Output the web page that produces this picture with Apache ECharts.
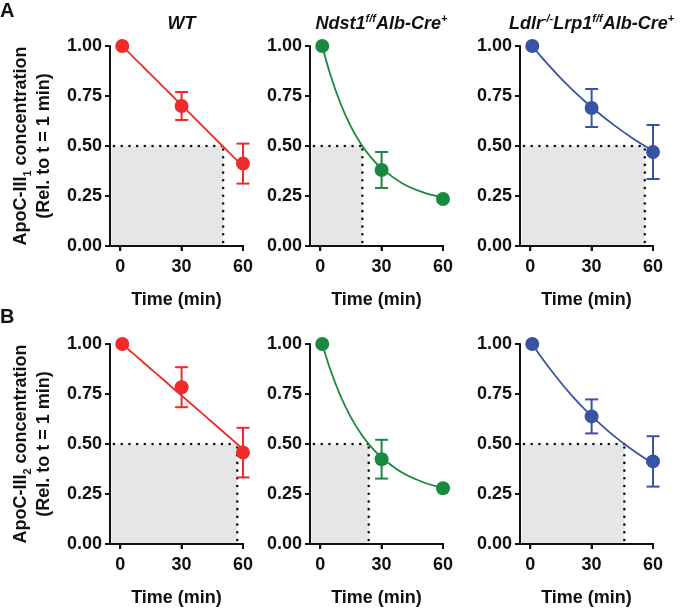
<!DOCTYPE html>
<html>
<head>
<meta charset="utf-8">
<script src="https://cdn.jsdelivr.net/npm/echarts@6/dist/echarts.min.js"></script>
<style>
  html, body { margin: 0; padding: 0; background: #ffffff; }
  #chart { width: 681px; height: 610px; background: #ffffff; }
</style>
</head>
<body>
<div id="chart"></div>
<script>
// ---------------- data ----------------
const sampleTimes = [1, 30, 60];
const xTickValues = [0, 30, 60];

// Row A: ApoC-III1
const wtA_mean = [1.00, 0.70, 0.412];
const wtA_err  = [0, 0.07, 0.10];
const ndA_mean = [1.00, 0.38, 0.235];
const ndA_err  = [0, 0.09, 0];
const ldA_mean = [1.00, 0.69, 0.47];
const ldA_err  = [0, 0.095, 0.135];

// Row B: ApoC-III2
const wtB_mean = [1.00, 0.784, 0.457];
const wtB_err  = [0, 0.10, 0.124];
const ndB_mean = [1.00, 0.424, 0.279];
const ndB_err  = [0, 0.097, 0];
const ldB_mean = [1.00, 0.638, 0.413];
const ldB_err  = [0, 0.085, 0.126];

// fitted curves
const fitTimes = [1, 5, 10, 15, 20, 25, 30, 40, 50, 60];
const wtA_fit = [1.000, 0.959, 0.908, 0.857, 0.806, 0.755, 0.704, 0.602, 0.500, 0.398];
const ndA_fit = [1.000, 0.855, 0.710, 0.597, 0.509, 0.441, 0.388, 0.314, 0.269, 0.242];
const ldA_fit = [1.000, 0.951, 0.893, 0.838, 0.787, 0.739, 0.694, 0.612, 0.539, 0.476];
const wtB_fit = [1.000, 0.964, 0.920, 0.875, 0.831, 0.786, 0.742, 0.653, 0.564, 0.475];
const ndB_fit = [1.000, 0.870, 0.738, 0.633, 0.550, 0.484, 0.432, 0.357, 0.310, 0.280];
const ldB_fit = [1.000, 0.940, 0.871, 0.806, 0.746, 0.691, 0.640, 0.548, 0.470, 0.403];

// half-life (time at 0.5)
const halfA = [50.3, 20.6, 56.0];
const halfB = [57.2, 23.7, 46.0];
const halfLevel = 0.5;

const panelTitles = [
  '{i|WT}',
  '{i|Ndst1}{s|f/f}{i|Alb-Cre}{s|+}',
  '{i|Ldlr}{s|-/-}{i|Lrp1}{s|f/f}{i|Alb-Cre}{s|+}'
];
const yNameA = '{a|ApoC-III}{sub|1}{a| concentration}\n{a|(Rel. to t = 1 min)}';
const yNameB = '{a|ApoC-III}{sub|2}{a| concentration}\n{a|(Rel. to t = 1 min)}';
const xName = 'Time (min)';

// ---------------- layout / style ----------------
const FONT = '"Liberation Sans", Arial, Helvetica, sans-serif';
const colors = ['#EE2A2B', '#18893F', '#3953A4'];
const colLeft = [110, 310, 520];
const rowTop = [46, 344];
const gridW = 133, gridH = 200;
const X_MIN = -5, X_MAX = 60;

const rows = [
  { means: [wtA_mean, ndA_mean, ldA_mean], errs: [wtA_err, ndA_err, ldA_err],
    fits: [wtA_fit, ndA_fit, ldA_fit], half: halfA, yName: yNameA },
  { means: [wtB_mean, ndB_mean, ldB_mean], errs: [wtB_err, ndB_err, ldB_err],
    fits: [wtB_fit, ndB_fit, ldB_fit], half: halfB, yName: yNameB }
];

const grids = [], xAxes = [], yAxes = [], series = [], titles = [];

rows.forEach((row, r) => {
  for (let c = 0; c < 3; c++) {
    const gi = r * 3 + c;
    grids.push({ left: colLeft[c], top: rowTop[r], width: gridW, height: gridH });
    xAxes.push({
      type: 'value', gridIndex: gi, min: X_MIN, max: X_MAX, interval: 65,
      axisLine: { show: true, onZero: false, lineStyle: { color: '#111', width: 2 } },
      axisTick: { show: true, length: 5, lineStyle: { color: '#111', width: 2 }, customValues: xTickValues },
      axisLabel: { show: true, margin: 12, fontSize: 18, fontWeight: 'bold', color: '#111', fontFamily: FONT,
                   customValues: xTickValues, formatter: v => String(v) },
      splitLine: { show: false }
    });
    const ya = {
      type: 'value', gridIndex: gi, min: 0, max: 1, interval: 0.25, z: 10,
      axisLine: { show: true, onZero: false, lineStyle: { color: '#111', width: 2 } },
      axisTick: { show: true, length: 5, lineStyle: { color: '#111', width: 2 } },
      axisLabel: { margin: 8, fontSize: 18, fontWeight: 'bold', color: '#111', fontFamily: FONT,
                   formatter: v => v.toFixed(2) },
      splitLine: { show: false }
    };
    if (c === 0) {
      ya.name = row.yName;
      ya.nameLocation = 'middle';
      ya.nameRotate = 90;
      ya.nameGap = 54;
      ya.nameTextStyle = {
        color: '#111', fontFamily: FONT, fontWeight: 'bold', lineHeight: 23,
        rich: {
          a: { fontSize: 18, fontWeight: 'bold', color: '#111', fontFamily: FONT, lineHeight: 23 },
          sub: { fontSize: 11, fontWeight: 'bold', color: '#111', fontFamily: FONT, verticalAlign: 'bottom', lineHeight: 15 }
        }
      };
    }
    yAxes.push(ya);

    // x-axis title as a text block centred under the panel
    titles.push({
      text: xName, left: colLeft[c] + gridW / 2, top: rowTop[r] + gridH + 45, textAlign: 'center', padding: 0,
      textStyle: { fontFamily: FONT, fontSize: 18, fontWeight: 'bold', color: '#111' }
    });

    const color = colors[c];
    const half = row.half[c];

    // shaded region
    series.push({
      type: 'custom', xAxisIndex: gi, yAxisIndex: gi, z: 1, silent: true,
      data: [[half, halfLevel]],
      renderItem: (params, api) => {
        const p0 = api.coord([X_MIN, 0]);
        const p1 = api.coord([api.value(0), api.value(1)]);
        return { type: 'rect', shape: { x: p0[0] + 1.5, y: p1[1], width: p1[0] - p0[0] - 1.5, height: p0[1] - p1[1] - 1 },
                 style: { fill: '#E6E6E6' } };
      }
    });
    // dotted guide lines
    series.push({
      type: 'custom', xAxisIndex: gi, yAxisIndex: gi, z: 2, silent: true,
      data: [[half, halfLevel]],
      renderItem: (params, api) => {
        const pL = api.coord([X_MIN, api.value(1)]);
        const pC = api.coord([api.value(0), api.value(1)]);
        const pB = api.coord([api.value(0), 0]);
        const st = { stroke: '#111', lineWidth: 2.6, lineDash: [0.01, 7.7], lineCap: 'round' };
        return { type: 'group', children: [
          { type: 'line', shape: { x1: pL[0] + 4, y1: pL[1], x2: pC[0], y2: pC[1] }, style: st },
          { type: 'line', shape: { x1: pB[0], y1: pB[1] - 4, x2: pC[0], y2: pC[1] }, style: st }
        ] };
      }
    });
    // fitted curve
    series.push({
      type: 'line', xAxisIndex: gi, yAxisIndex: gi, z: 3, silent: true,
      data: fitTimes.map((t, i) => [t, row.fits[c][i]]),
      smooth: 0.4, showSymbol: false, symbol: 'none',
      lineStyle: { color: color, width: 1.8 }
    });
    // error bars
    series.push({
      type: 'custom', xAxisIndex: gi, yAxisIndex: gi, z: 4, silent: true,
      data: sampleTimes.map((t, i) => [t, row.means[c][i] - row.errs[c][i], row.means[c][i] + row.errs[c][i]])
                       .filter((d, i) => row.errs[c][i] > 0),
      renderItem: (params, api) => {
        const x = api.value(0);
        const pLo = api.coord([x, api.value(1)]);
        const pHi = api.coord([x, api.value(2)]);
        const w = 6.5;
        const st = { stroke: color, lineWidth: 2 };
        return { type: 'group', children: [
          { type: 'line', shape: { x1: pLo[0], y1: pLo[1], x2: pHi[0], y2: pHi[1] }, style: st },
          { type: 'line', shape: { x1: pLo[0] - w, y1: pLo[1], x2: pLo[0] + w, y2: pLo[1] }, style: st },
          { type: 'line', shape: { x1: pHi[0] - w, y1: pHi[1], x2: pHi[0] + w, y2: pHi[1] }, style: st }
        ] };
      }
    });
    // mean points
    series.push({
      type: 'scatter', xAxisIndex: gi, yAxisIndex: gi, z: 5, silent: true,
      data: sampleTimes.map((t, i) => [t, row.means[c][i]]),
      symbol: 'circle', symbolSize: 14,
      itemStyle: { color: color, opacity: 1 }
    });
  }
});

// panel titles (top row)
for (let c = 0; c < 3; c++) {
  titles.push({
    text: panelTitles[c],
    left: colLeft[c] + gridW / 2, top: 8, textAlign: 'center',
    textStyle: {
      fontFamily: FONT, fontSize: 18, fontWeight: 'bold', fontStyle: 'italic', color: '#111',
      rich: {
        i: { fontFamily: FONT, fontSize: 18, fontWeight: 'bold', fontStyle: 'italic', color: '#111', lineHeight: 22 },
        s: { fontFamily: FONT, fontSize: 11, fontWeight: 'bold', fontStyle: 'italic', color: '#111', verticalAlign: 'top', lineHeight: 13 }
      }
    }
  });
}
// panel letters
titles.push({ text: 'A', left: 0, top: 1, textStyle: { fontFamily: FONT, fontSize: 20, fontWeight: 'bold', color: '#111' }, padding: 0 });
titles.push({ text: 'B', left: 0, top: 307, textStyle: { fontFamily: FONT, fontSize: 20, fontWeight: 'bold', color: '#111' }, padding: 0 });

const chart = echarts.init(document.getElementById('chart'), null, { renderer: 'canvas' });
chart.setOption({
  animation: false,
  title: titles,
  grid: grids,
  xAxis: xAxes,
  yAxis: yAxes,
  series: series
});

// x-axis baseline and ticks, placed through each grid's scales (overlay)
const overlay = [];
for (let gi = 0; gi < 6; gi++) {
  const a = chart.convertToPixel({ gridIndex: gi }, [X_MIN, 0]);
  const b = chart.convertToPixel({ gridIndex: gi }, [X_MAX, 0]);
  overlay.push({ type: 'line', z: 100, silent: true,
    shape: { x1: a[0] - 1, y1: a[1], x2: b[0] + 1, y2: b[1] }, style: { stroke: '#111', lineWidth: 2 } });
  xTickValues.forEach(v => {
    const p = chart.convertToPixel({ gridIndex: gi }, [v, 0]);
    overlay.push({ type: 'line', z: 100, silent: true,
      shape: { x1: p[0], y1: p[1], x2: p[0], y2: p[1] + 5 }, style: { stroke: '#111', lineWidth: 2 } });
  });
}
chart.setOption({ graphic: overlay });
</script>
</body>
</html>
